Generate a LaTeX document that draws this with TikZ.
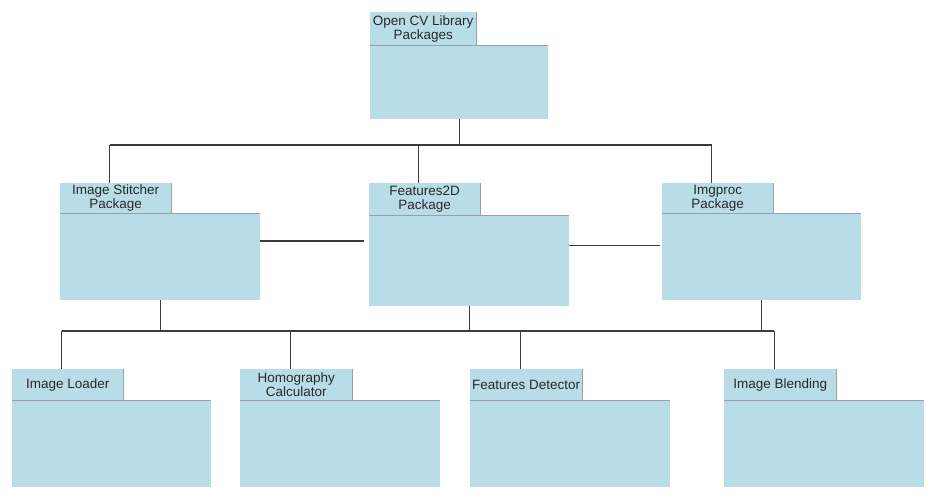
\documentclass[tikz,border=0pt]{standalone}
\usepackage{fontspec}
\setmainfont{Liberation Sans}
\usetikzlibrary{calc}
\definecolor{pkgfill}{RGB}{185,221,232}
\definecolor{pkgedge}{RGB}{150,160,165}
\definecolor{wire}{RGB}{60,60,60}
\definecolor{txt}{RGB}{40,40,40}
\tikzset{
  tab/.style={fill=pkgfill, draw=none, anchor=north west, inner sep=0pt, align=center,
    text=txt, font=\fontsize{13.5}{14.5}\selectfont},
  body/.style={fill=pkgfill, draw=none, anchor=north west, inner sep=0pt},
  edge/.style={draw=pkgedge, line width=1pt},
  wireline/.style={draw=wire, line width=1.2pt},
}
\begin{document}
\begin{tikzpicture}[x=1pt,y=-1pt]
\useasboundingbox (0,0) rectangle (936,500);
% top
\node[tab, minimum width=106pt, minimum height=34pt] (t0) at (370,12) {Open CV Library\\Packages};
\node[body, minimum width=178pt, minimum height=73pt] (b0) at (370,46) {};
% middle row
\node[tab, minimum width=111pt, minimum height=30pt] (t1) at (60,183) {Image Stitcher\\Package};
\node[body, minimum width=200pt, minimum height=87pt] (b1) at (60,213) {};
\node[tab, minimum width=111pt, minimum height=32pt] (t2) at (369,183) {Features2D\\Package};
\node[body, minimum width=200pt, minimum height=91pt] (b2) at (369,215) {};
\node[tab, minimum width=111pt, minimum height=30pt] (t3) at (662,183) {Imgproc\\Package};
\node[body, minimum width=199pt, minimum height=87pt] (b3) at (662,213) {};
% bottom row
\node[tab, minimum width=111pt, minimum height=31pt] (t4) at (12,369) {Image Loader};
\node[body, minimum width=199pt, minimum height=87pt] (b4) at (12,400) {};
\node[tab, minimum width=112pt, minimum height=31pt] (t5) at (240,369) {Homography\\Calculator};
\node[body, minimum width=200pt, minimum height=87pt] (b5) at (240,400) {};
\node[tab, minimum width=112pt, minimum height=31pt] (t6) at (470,369) {Features Detector};
\node[body, minimum width=200pt, minimum height=87pt] (b6) at (470,400) {};
\node[tab, minimum width=112pt, minimum height=31pt] (t7) at (724,369) {Image Blending};
\node[body, minimum width=200pt, minimum height=87pt] (b7) at (724,400) {};
% package edges
\foreach \i in {0,...,7}{
  \draw[edge] (t\i.north east) -- (t\i.south east);
  \draw[edge] (b\i.north west) -- (b\i.north east);
}
% upper tree
\coordinate (busA) at (0,145);
\draw[wireline] (b0.south) -- (b0.south |- busA);
\draw[wireline] ([xshift=-6pt]t1.north |- busA) -- ([xshift=-6pt]t3.north |- busA);
\foreach \i in {1,2,3}{
  \draw[wireline] ([xshift=-6pt]t\i.north |- busA) -- ([xshift=-6pt]t\i.north);
}
% lower tree
\coordinate (busB) at (0,331);
\foreach \i in {1,2,3}{
  \draw[wireline] (b\i.south) -- (b\i.south |- busB);
}
\draw[wireline] ([xshift=-6pt]t4.north |- busB) -- ([xshift=-6pt]t7.north |- busB);
\foreach \i in {4,5,6,7}{
  \draw[wireline] ([xshift=-6pt]t\i.north |- busB) -- ([xshift=-6pt]t\i.north);
}
% side links
\coordinate (s1) at ($(b1.north east)!0.32!(b1.south east)$);
\coordinate (s2) at ($(b2.north east)!0.33!(b2.south east)$);
\draw[wireline] (s1) -- ([xshift=-5pt]b2.west |- s1);
\draw[wireline] (s2) -- ([xshift=-2pt]b3.west |- s2);
\end{tikzpicture}
\end{document}
